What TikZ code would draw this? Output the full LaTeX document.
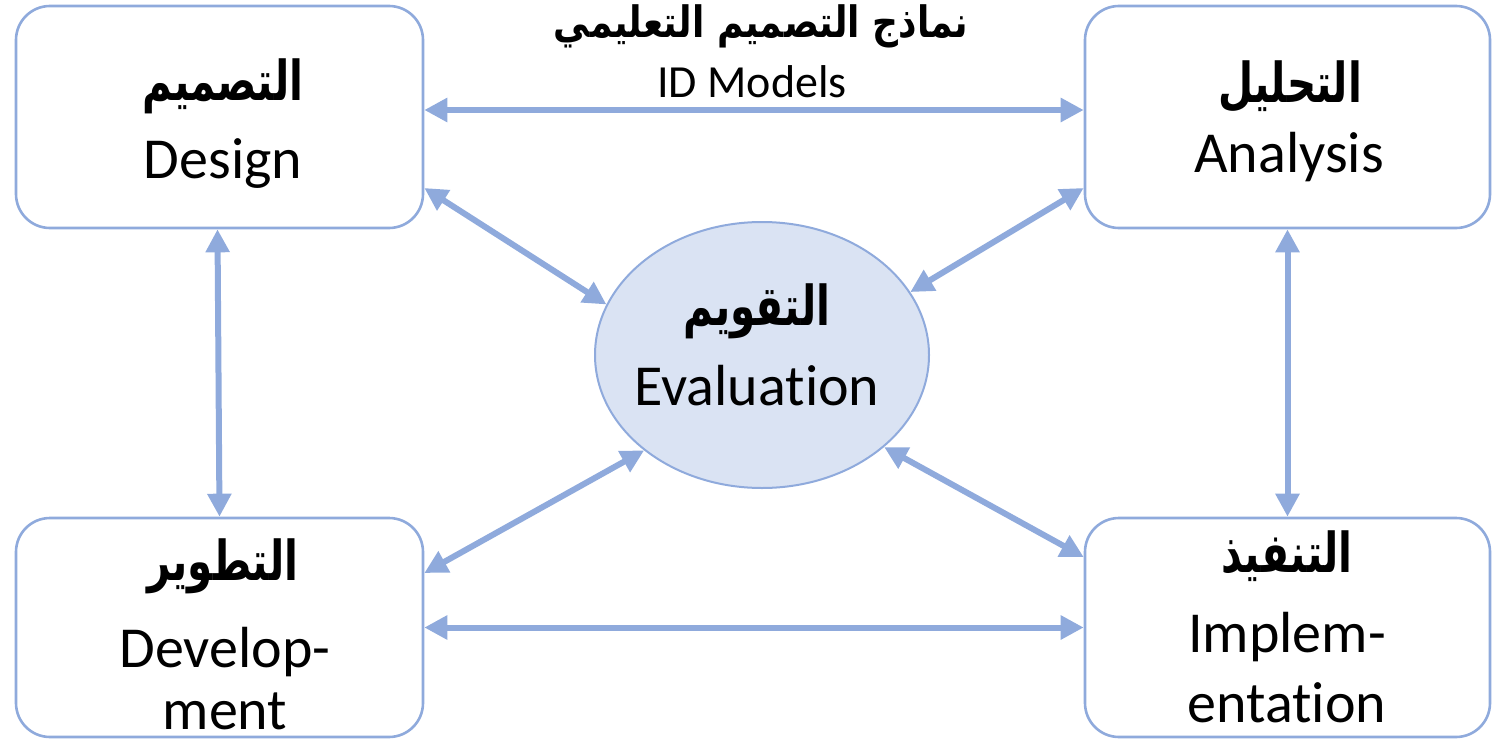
\documentclass[tikz,border=0pt]{standalone}
\usepackage{fontspec}
\setmainfont{Carlito}[Ligatures=NoCommon]
\newfontfamily\arabicfont[Script=Arabic]{DejaVu Sans}
\TeXXeTstate=1
\usetikzlibrary{arrows.meta,shapes.geometric}
\definecolor{edgeblue}{HTML}{8FAADC}
\definecolor{fillblue}{HTML}{DAE3F3}
\newcommand{\artext}[1]{\scalebox{0.92}[1.25]{\beginR #1\endR}}
\tikzset{
  box/.style={draw=edgeblue, line width=1.3pt, rounded corners=17pt, fill=white, inner sep=0pt},
  evalshape/.style={ellipse, draw=edgeblue, line width=1pt, fill=fillblue, inner sep=0pt, minimum width=167pt, minimum height=133pt},
  link/.style={draw=edgeblue, line width=3pt, {Triangle[length=11.5pt,width=11.5pt]}-{Triangle[length=11.5pt,width=11.5pt]}},
  en/.style={anchor=base, inner sep=0pt, font=\fontsize{29pt}{32pt}\selectfont},
  ar/.style={anchor=base, inner sep=0pt, font=\fontsize{22pt}{26pt}\selectfont\arabicfont\bfseries},
}
\begin{document}
\begin{tikzpicture}[x=0.5pt,y=-0.5pt]
\useasboundingbox (0,0) rectangle (1494,739);
% boxes
\node[box, minimum width=203.5pt, minimum height=111pt] (design) at (219.5,117) {};
\node[box, minimum width=202.5pt, minimum height=111pt] (analysis) at (1287.5,117) {};
\node[box, minimum width=203.5pt, minimum height=109.5pt] (dev) at (219.5,627.5) {};
\node[box, minimum width=202.5pt, minimum height=109.5pt] (impl) at (1287.5,627.5) {};
\node[evalshape] (eval) at (762,355) {};
% connectors
\draw[link] ([yshift=3.5pt]design.east) -- ([yshift=3.5pt]analysis.west);
\draw[link] (dev.east) -- (impl.west);
\draw[link] ([xshift=-1pt]design.south) -- (dev.north);
\draw[link] (analysis.south) -- (impl.north);
\draw[link] ([yshift=-35.5pt]design.east) -- (eval.162);
\draw[link] ([yshift=-35.5pt]analysis.west) -- (eval.23);
\draw[link] ([yshift=27.25pt]dev.east) -- (eval.219);
\draw[link] ([yshift=35.25pt]impl.west) -- (eval.323);
% texts
\node[ar, font=\fontsize{18pt}{22pt}\selectfont\arabicfont\bfseries] (titlear) at (761,37) {\scalebox{1}[1.2]{\beginR نماذج التصميم التعليمي\endR}};
\node[en, font=\fontsize{23pt}{26pt}\selectfont] (titleen) at (752,97) {ID Models};
\node[ar] (designar) at (223,100) {\artext{التصميم}};
\node[en] (designen) at (223,178) {Design};
\node[ar] (analysisar) at (1290,102) {\artext{التحليل}};
\node[en] (analysisen) at (1289,172) {Analysis};
\node[ar] (evalar) at (757,325) {\artext{التقويم}};
\node[en] (evalen) at (757,405) {Evaluation};
\node[ar] (devar) at (223,580) {\artext{التطوير}};
\node[en] (deven1) at (225,667) {Develop-};
\node[en, text depth=0pt] (deven2) at (225,729) {ment};
\node[ar] (implar) at (1287,572) {\artext{التنفيذ}};
\node[en] (implen1) at (1287,652) {Implem-};
\node[en, text depth=0pt] (implen2) at (1287,722) {entation};
\end{tikzpicture}
\end{document}
